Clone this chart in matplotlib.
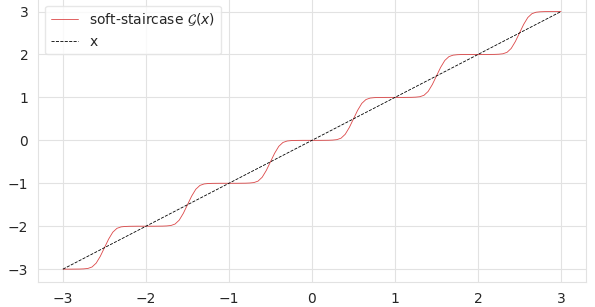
import numpy as np
import matplotlib
matplotlib.use("Agg")
import matplotlib.pyplot as plt
import seaborn as sns

sns.set_style("whitegrid", {"grid.color": "#e2e2e2", "axes.edgecolor": "#e2e2e2"})

# x grid, step 0.05 from -3 to 3
x = np.linspace(-3, 3, 121)

# soft staircase values (one row per unit step)
g = [
    -3.000, -3.000, -3.000, -2.999, -2.998, -2.994, -2.984, -2.950, -2.860, -2.700,
    -2.500, -2.300, -2.140, -2.050, -2.016, -2.006, -2.002, -2.001, -2.000, -2.000,
    -2.000, -2.000, -2.000, -1.999, -1.998, -1.994, -1.984, -1.950, -1.860, -1.700,
    -1.500, -1.300, -1.140, -1.050, -1.016, -1.006, -1.002, -1.001, -1.000, -1.000,
    -1.000, -1.000, -1.000, -0.999, -0.998, -0.994, -0.984, -0.950, -0.860, -0.700,
    -0.500, -0.300, -0.140, -0.050, -0.016, -0.006, -0.002, -0.001, 0.000, 0.000,
    0.000, 0.000, 0.000, 0.001, 0.002, 0.006, 0.016, 0.050, 0.140, 0.300,
    0.500, 0.700, 0.860, 0.950, 0.984, 0.994, 0.998, 0.999, 1.000, 1.000,
    1.000, 1.000, 1.000, 1.001, 1.002, 1.006, 1.016, 1.050, 1.140, 1.300,
    1.500, 1.700, 1.860, 1.950, 1.984, 1.994, 1.998, 1.999, 2.000, 2.000,
    2.000, 2.000, 2.000, 2.001, 2.002, 2.006, 2.016, 2.050, 2.140, 2.300,
    2.500, 2.700, 2.860, 2.950, 2.984, 2.994, 2.998, 2.999, 3.000, 3.000,
    3.000,
]

# identity line
line_x = [-3, 3]
line_y = [-3, 3]

fig = plt.figure(figsize=(5.95, 3.07), dpi=100)
ax = fig.add_axes([0.064, 0.0814, 0.9207, 0.923])

ax.plot(x, g, color="#d62728", lw=0.6, alpha=0.85, label=r"soft-staircase $\mathcal{G}(x)$")
ax.plot(line_x, line_y, "k--", lw=0.6, label="x")

ax.set_xticks([-3, -2, -1, 0, 1, 2, 3])
ax.set_yticks([-3, -2, -1, 0, 1, 2, 3])
ax.tick_params(labelsize=10, colors="#262626")
leg = ax.legend(loc="upper left", fontsize=10)
leg.get_frame().set_edgecolor("#e2e2e2")

fig.savefig("out.png", dpi=100)
